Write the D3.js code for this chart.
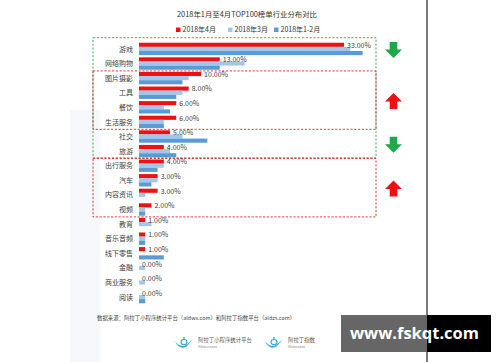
<!DOCTYPE html>
<html><head><meta charset="utf-8">
<script src="https://cdn.jsdelivr.net/npm/d3@7"></script>
<style>
html,body{margin:0;padding:0;background:#fff;}
svg{display:block;font-family:"Noto Sans CJK SC","Noto Sans",sans-serif;}
</style></head>
<body>
<svg id="chart" width="500" height="362"></svg>
<script>
const title = "2018年1月至4月TOP100榜单行业分布对比";
const categories = ["游戏","网络购物","图片摄影","工具","餐饮","生活服务","社交","旅游","出行服务","汽车","内容资讯","视频","教育","音乐音频","线下零售","金融","商业服务","阅读"];
const seriesNames = ["2018年4月","2018年3月","2018年1-2月"];
const apr2018   = [33,13,10,8,6,6,5,4,4,3,3,2,1,1,1,0,0,0];
const mar2018   = [34,17,8,7,4,4,7,5,4,3,1,1,2,1,0,1,1,1];
const janFeb2018= [36,13,7,6,5,4,11,6,3,2,0,1,0,1,4,0,0,1];
const seriesColors = ["#ee1111","#a3c6ea","#5b9bd5"];
const boxes = [
  {from:"游戏", to:"旅游", color:"#2fa45a", dir:"down", arrowFrom:"游戏", arrowTo:"游戏"},
  {from:"图片摄影", to:"生活服务", color:"#d42a2a", dir:"up", arrowFrom:"工具", arrowTo:"餐饮"},
  {from:"社交", to:"旅游", color:null, dir:"down", arrowFrom:"社交", arrowTo:"旅游"},
  {from:"出行服务", to:"视频", color:"#d42a2a", dir:"up", arrowFrom:"汽车", arrowTo:"内容资讯"}
];
const source = "数据来源：阿拉丁小程序统计平台（aldwx.com）和阿拉丁指数平台（aldzs.com）";

const svg = d3.select("#chart");
const series = [apr2018, mar2018, janFeb2018];

svg.append("rect").attr("width",500).attr("height",362).attr("fill","#fff");
svg.append("rect").attr("x",70).attr("y",110).attr("width",30).attr("height",252).attr("fill","#f7f8fb");
svg.append("line").attr("x1",427).attr("x2",427).attr("y1",0).attr("y2",362)
  .attr("stroke","#222").attr("stroke-width",1.2);

const x = d3.scaleLinear().domain([0,33]).range([139,344]);
const y = d3.scaleBand().domain(categories).range([42,304]).paddingInner(0.15).paddingOuter(0.05);
const sub = d3.scaleBand().domain(d3.range(3)).range([0,y.bandwidth()]);

svg.append("text").attr("x",247).attr("y",16.5).attr("text-anchor","middle")
  .attr("font-size",7.4).attr("fill","#333").text(title);

const legendX = [176,228,274];
const lg = svg.append("g");
seriesNames.forEach((n,i)=>{
  lg.append("rect").attr("x",legendX[i]).attr("y",27.5).attr("width",4.5).attr("height",4.5).attr("fill",seriesColors[i]);
  lg.append("text").attr("x",legendX[i]+6.5).attr("y",32.3).attr("font-size",7).attr("fill","#333").text(n);
});

const boxX0 = 93, boxX1 = 376;
const green = boxes[0];
svg.append("rect").attr("x",boxX0).attr("y",y(green.from)-5)
  .attr("width",boxX1-boxX0).attr("height",y(green.to)+y.bandwidth()+0.5-(y(green.from)-5))
  .attr("fill","none").attr("stroke",green.color).attr("stroke-width",0.9).attr("stroke-dasharray","2.2,1.6");
boxes.filter(b=>b.color && b.dir==="up").forEach(b=>{
  const t = y(b.from)-1, bt = y(b.to)+y.bandwidth()+1.2;
  svg.append("rect").attr("x",boxX0).attr("y",t).attr("width",boxX1-boxX0).attr("height",bt-t)
    .attr("fill","none").attr("stroke",b.color).attr("stroke-width",0.9).attr("stroke-dasharray","2.2,1.6");
});

const g = svg.append("g");
categories.forEach((c,ci)=>{
  series.forEach((s,si)=>{
    g.append("rect").attr("x",x(0)).attr("y",y(c)+sub(si))
      .attr("width",Math.max(0,x(s[ci])-x(0))).attr("height",sub.bandwidth())
      .attr("fill",seriesColors[si]);
  });
  g.append("text").attr("x",133).attr("y",y(c)+y.bandwidth()/2+2.6)
    .attr("text-anchor","end").attr("font-size",7).attr("fill","#404040").text(c);
  g.append("text").attr("x",x(apr2018[ci])+3).attr("y",y(c)+sub(0)+sub.bandwidth()/2+2.8)
    .attr("font-size",7).attr("fill","#404040").text(apr2018[ci].toFixed(2)+"%");
});

const arrowX = 393.5;
boxes.forEach(b=>{
  const yc = (y(b.arrowFrom) + y(b.arrowTo)+y.bandwidth())/2 + 1;
  const col = b.dir==="down" ? "#1fa84a" : "#f01010";
  const hw=8.5, sw=3.8, h=16, hh=8.5;
  let pts;
  const t=yc-h/2, bt=yc+h/2;
  if(b.dir==="down"){
    pts=[[arrowX-sw,t],[arrowX+sw,t],[arrowX+sw,bt-hh],[arrowX+hw,bt-hh],[arrowX,bt],[arrowX-hw,bt-hh],[arrowX-sw,bt-hh]];
  } else {
    pts=[[arrowX,t],[arrowX+hw,t+hh],[arrowX+sw,t+hh],[arrowX+sw,bt],[arrowX-sw,bt],[arrowX-sw,t+hh],[arrowX-hw,t+hh]];
  }
  svg.append("path").attr("d",d3.line()(pts)+"Z").attr("fill",col);
});

svg.append("text").attr("x",97).attr("y",320).attr("font-size",5.4).attr("fill","#444").text(source);

function lamp(cx,cy){
  const p = d3.path();
  p.moveTo(cx-9,cy-2); p.quadraticCurveTo(cx-4,cy+5,cx+2,cy+2);
  p.quadraticCurveTo(cx+6,cy-1,cx+9,cy-4); p.quadraticCurveTo(cx+5,cy+1,cx+2,cy+4);
  p.quadraticCurveTo(cx-5,cy+7,cx-9,cy-2); p.closePath();
  svg.append("path").attr("d",p.toString()).attr("fill","#39a9d8");
  svg.append("ellipse").attr("cx",cx).attr("cy",cy-1).attr("rx",3).attr("ry",2.5).attr("fill","none").attr("stroke","#39a9d8").attr("stroke-width",1.2);
  svg.append("circle").attr("cx",cx).attr("cy",cy-5).attr("r",0.9).attr("fill","#39a9d8");
}
lamp(184,343);
svg.append("text").attr("x",198).attr("y",342).attr("font-size",5.4).attr("fill","#555").text("阿拉丁小程序统计平台");
svg.append("text").attr("x",198).attr("y",347.5).attr("font-size",3.6).attr("fill","#888").text("Aldw x.com");
lamp(274,343);
svg.append("text").attr("x",288).attr("y",342).attr("font-size",5.4).attr("fill","#555").text("阿拉丁指数");
svg.append("text").attr("x",288).attr("y",347.5).attr("font-size",3.6).attr("fill","#888").text("Aldzs.com");

svg.append("rect").attr("x",341).attr("y",315).attr("width",86).attr("height",37).attr("fill","#666");
svg.append("rect").attr("x",427).attr("y",315).attr("width",64).attr("height",37).attr("fill","#000");
svg.append("text").attr("x",350).attr("y",339).attr("font-size",16).attr("font-weight","bold")
  .attr("font-family","'Open Sans','DejaVu Sans',sans-serif")
  .attr("textLength",129).attr("lengthAdjust","spacingAndGlyphs")
  .attr("fill","#fff").text("www.fskqt.com");
</script>
</body></html>
